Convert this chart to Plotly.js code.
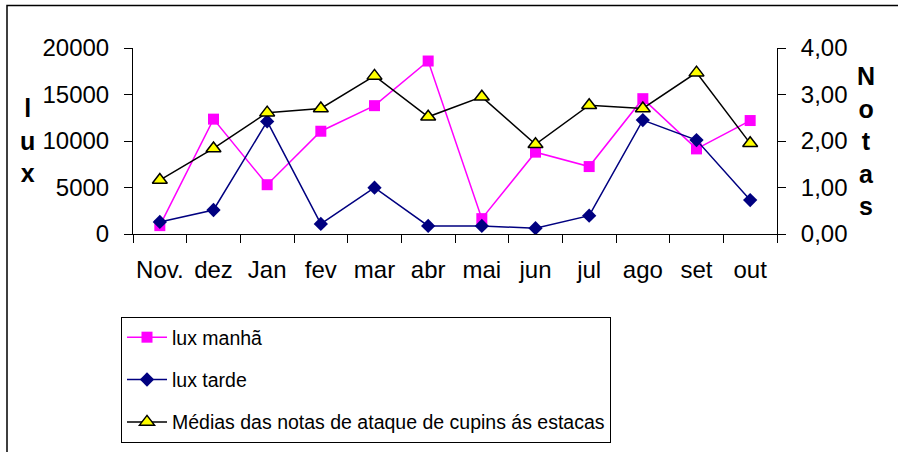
<!DOCTYPE html>
<html>
<head>
<meta charset="utf-8">
<script src="https://cdn.plot.ly/plotly-3.0.1.min.js"></script>
<style>html,body{margin:0;padding:0;background:#fff;}#chart{width:898px;height:452px;}</style>
</head>
<body>
<div id="chart"></div>
<script>
const months = ["Nov.", "dez", "Jan", "fev", "mar", "abr", "mai", "jun", "jul", "ago", "set", "out"];
const luxManha = [900, 12350, 5300, 11050, 13800, 18600, 1650, 8800, 7250, 14550, 9150, 12200];
const luxTarde = [1300, 2580, 12100, 1080, 4980, 870, 870, 620, 1970, 12250, 10100, 3650];
const notas = [1.16, 1.84, 2.61, 2.70, 3.40, 2.52, 2.95, 1.93, 2.77, 2.70, 3.47, 1.95];
const seriesNames = ["lux manhã", "lux tarde", "Médias das notas de ataque de cupins ás estacas"];

const FONT = '"Liberation Sans", Arial, sans-serif';

const traces = [
  {x: months, y: luxManha, name: seriesNames[0], type: 'scatter', mode: 'lines+markers',
   legendgroup: 'a', line: {color: '#FF00FF', width: 1.5},
   marker: {symbol: 'square', size: 11, color: '#FF00FF'}, xaxis: 'x', yaxis: 'y'},
  {x: months, y: luxTarde, name: seriesNames[1], type: 'scatter', mode: 'lines+markers',
   legendgroup: 'b', line: {color: '#000080', width: 1.5},
   marker: {symbol: 'diamond', size: 11, color: '#000080'}, xaxis: 'x', yaxis: 'y'},
  {x: months, y: notas, name: seriesNames[2], type: 'scatter', mode: 'lines+markers',
   legendgroup: 'c', line: {color: '#000000', width: 1.5},
   marker: {symbol: 'triangle-up', size: 13, color: '#FFFF00', line: {color: '#000000', width: 1.5}},
   xaxis: 'x', yaxis: 'y2'}
];

const PW = 644, PH = 186, PLEFT = 133, PTOP = 48;
function px2x(p) { return (p - PLEFT) / PW; }
function py2y(p) { return (PTOP + PH - p) / PH; }

const layout = {
  width: 898, height: 452,
  margin: {l: 133, r: 121, t: 48, b: 218, pad: 0, autoexpand: false},
  paper_bgcolor: '#ffffff', plot_bgcolor: 'rgba(0,0,0,0)',
  separators: ',.',
  font: {family: FONT, size: 24, color: '#000'},
  showlegend: true,
  xaxis: {type: 'category', range: [-0.5, 11.5], showgrid: false, zeroline: false,
    showline: true, linecolor: '#000', linewidth: 1, ticks: 'outside', ticklen: 8,
    tickcolor: '#000', tickwidth: 1, tickson: 'boundaries', ticklabelstandoff: 14,
    tickangle: 0, automargin: false,
    tickfont: {family: FONT, size: 24, color: '#000'}, fixedrange: true},
  xaxis2: {overlaying: 'x', range: [-0.5, 11.5], showgrid: false, zeroline: false,
    showline: false, ticks: 'inside', ticklen: 7, tickcolor: '#000', tickwidth: 1,
    tickvals: [-0.5, 0.5, 1.5, 2.5, 3.5, 4.5, 5.5, 6.5, 7.5, 8.5, 9.5, 10.5, 11.5],
    showticklabels: false, side: 'bottom', anchor: 'y'},
  yaxis: {range: [0, 20000], dtick: 5000, tick0: 0, tickformat: 'd', showgrid: false,
    zeroline: false, showline: true, linecolor: '#000', linewidth: 1, ticks: 'outside',
    ticklen: 8, tickcolor: '#000', ticklabelstandoff: 10, automargin: false,
    tickfont: {family: FONT, size: 24, color: '#000'}},
  yaxis3: {overlaying: 'y', range: [0, 20000], dtick: 5000, tick0: 0, showgrid: false,
    zeroline: false, showline: false, ticks: 'inside', ticklen: 8, tickcolor: '#000',
    showticklabels: false, side: 'left', anchor: 'x'},
  yaxis2: {overlaying: 'y', side: 'right', range: [0, 4], dtick: 1, tick0: 0,
    tickformat: '.2f', showgrid: false, zeroline: false, showline: true, linecolor: '#000',
    linewidth: 1, ticks: 'outside', ticklen: 8, tickcolor: '#000', ticklabelstandoff: 10,
    automargin: false,
    tickfont: {family: FONT, size: 24, color: '#000'}, anchor: 'x'},
  yaxis4: {overlaying: 'y', side: 'right', range: [0, 4], dtick: 1, tick0: 0,
    showgrid: false, zeroline: false, showline: false, ticks: 'inside', ticklen: 8,
    tickcolor: '#000', showticklabels: false, anchor: 'x'},
  legend: {x: px2x(121), y: py2y(317), xanchor: 'left', yanchor: 'top',
    bordercolor: '#000', borderwidth: 1, bgcolor: '#fff',
    font: {family: FONT, size: 19.5, color: '#000'}, itemwidth: 40,
    traceorder: 'grouped', tracegroupgap: 14, itemclick: false},
  annotations: [
    {text: '<b>l<br>u<br>x</b>', xref: 'paper', yref: 'paper', x: px2x(27), y: py2y(140),
     xanchor: 'center', yanchor: 'middle', showarrow: false,
     font: {family: FONT, size: 25, color: '#000'}},
    {text: '<b>N<br>o<br>t<br>a<br>s</b>', xref: 'paper', yref: 'paper', x: px2x(866), y: py2y(141),
     xanchor: 'center', yanchor: 'middle', showarrow: false,
     font: {family: FONT, size: 25, color: '#000'}}
  ],
  shapes: [
    {type: 'rect', xref: 'paper', yref: 'paper', x0: px2x(7), x1: px2x(910), y0: py2y(5.5), y1: py2y(470),
     line: {color: '#000', width: 1.5}, fillcolor: 'rgba(0,0,0,0)', layer: 'below'}
  ]
};

Plotly.newPlot('chart', traces, layout, {displayModeBar: false, staticPlot: true});
</script>
</body>
</html>
